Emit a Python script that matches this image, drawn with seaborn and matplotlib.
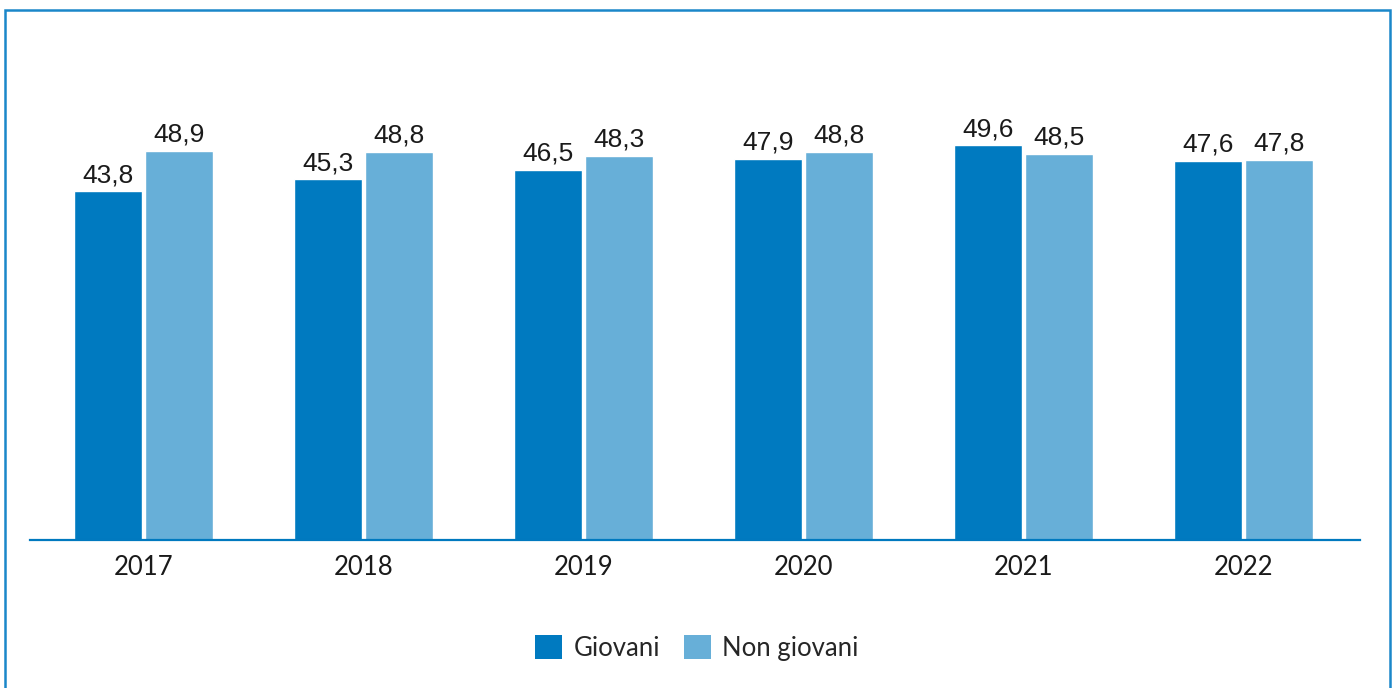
import matplotlib
matplotlib.use("Agg")
import matplotlib.pyplot as plt
import seaborn as sns
import pandas as pd
from matplotlib.patches import Rectangle, Patch

years = ["2017", "2018", "2019", "2020", "2021", "2022"]
giovani = [43.8, 45.3, 46.5, 47.9, 49.6, 47.6]
non_giovani = [48.9, 48.8, 48.3, 48.8, 48.5, 47.8]
series = ["Giovani", "Non giovani"]
colors = ["#007ac0", "#67afd8"]

df = pd.DataFrame({
    "anno": years * 2,
    "valore": giovani + non_giovani,
    "gruppo": [series[0]] * len(years) + [series[1]] * len(years),
})

sns.set_theme(style="white")
plt.rcParams["font.family"] = ["Lato", "DejaVu Sans"]

W, H = 1394, 688
fig = plt.figure(figsize=(W / 100, H / 100), dpi=100)
ax = fig.add_axes([30 / W, 1 - 540 / H, 1330 / W, 476 / H])

sns.barplot(data=df, x="anno", y="valore", hue="gruppo", palette=colors,
            width=0.645, gap=0.042, saturation=1, legend=False, ax=ax)

ax.set_xlim(-0.516, 5.53)
ax.set_ylim(0, 59.8)
ax.set_xlabel("")
ax.set_ylabel("")
ax.set_yticks([])
ax.tick_params(axis="x", length=0, labelsize=18.5, pad=11, colors="#1a1a1a")
for s in ["left", "right", "top"]:
    ax.spines[s].set_visible(False)
ax.spines["bottom"].set_color("#0079bf")
ax.spines["bottom"].set_linewidth(1.6)

for cont in ax.containers:
    labels = [f"{b.get_height():.1f}".replace(".", ",") for b in cont]
    ax.bar_label(cont, labels=labels, padding=3, fontsize=19,
                 family=["Liberation Sans", "DejaVu Sans"], color="#1a1a1a")

handles = [Patch(facecolor=c, edgecolor="none") for c in colors]
fig.legend(handles, series, loc="center", bbox_to_anchor=(697 / W, 1 - 648 / H),
           ncol=2, frameon=False, fontsize=18.5, handlelength=1.05, handleheight=1.05,
           handletextpad=0.45, columnspacing=0.9)

# outer frame
fig.patches.append(Rectangle((5 / W, -0.05), 1385 / W, 1 - 10 / H + 0.05,
                             transform=fig.transFigure, fill=False,
                             edgecolor="#1a87c9", linewidth=1.8))

fig.savefig("out.png", dpi=100)
